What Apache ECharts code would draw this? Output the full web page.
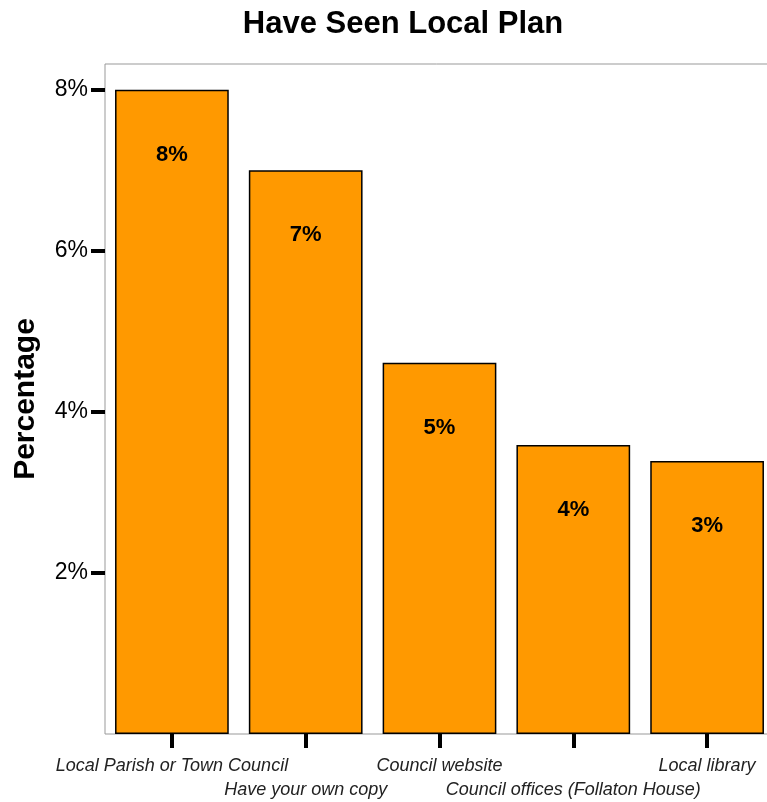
<!DOCTYPE html>
<html>
<head>
<meta charset="utf-8">
<script src="https://cdn.jsdelivr.net/npm/echarts@6/dist/echarts.min.js"></script>
<style>
  html, body { margin: 0; padding: 0; background: #fff; overflow: hidden; }
  #chart { width: 767px; height: 802px; }
</style>
</head>
<body>
<div id="chart"></div>
<script>
// Where respondents have seen the local plan
const categories = [
  'Local Parish or Town Council',
  'Have your own copy',
  'Council website',
  'Council offices (Follaton House)',
  'Local library'
];
const percentages = [8.0, 7.0, 4.61, 3.59, 3.39];
const yTicks = [2, 4, 6, 8];

const chart = echarts.init(document.getElementById('chart'));
const font = 'Liberation Sans, Arial, sans-serif';

chart.setOption({
  animation: false,
  title: {
    text: 'Have Seen Local Plan',
    left: 398,
    top: 4,
    textAlign: 'center',
    textStyle: { fontFamily: font, fontSize: 31, fontWeight: 'bold', color: '#000' }
  },
  grid: {
    left: 105, right: -7, top: 64, bottom: 68,
    outerBoundsMode: 'none',
    containLabel: false,
    show: true, borderColor: '#999', borderWidth: 1, backgroundColor: 'transparent'
  },
  xAxis: {
    type: 'category',
    data: categories,
    axisLine: { show: false },
    axisTick: { show: true, alignWithLabel: true, length: 14, lineStyle: { color: '#000', width: 4 } },
    axisLabel: {
      interval: 0,
      hideOverlap: false,
      margin: 20,
      fontFamily: font,
      fontSize: 18,
      fontStyle: 'italic',
      color: '#222',
      lineHeight: 24,
      formatter: (v, i) => (i % 2 ? '\n' + v : v)
    }
  },
  yAxis: {
    type: 'value',
    min: 0,
    max: 8.32,
    interval: 2,
    name: 'Percentage',
    nameLocation: 'middle',
    nameGap: 64,
    nameRotate: 90,
    nameTextStyle: { fontFamily: font, fontSize: 30, fontWeight: 'bold', color: '#000' },
    splitLine: { show: false },
    axisLine: { show: false },
    axisTick: { show: true, customValues: yTicks, length: 14, lineStyle: { color: '#000', width: 4 } },
    axisLabel: {
      customValues: yTicks,
      margin: 17,
      padding: [6, 0, 0, 0],
      fontFamily: font,
      fontSize: 23,
      color: '#000',
      formatter: v => v + '%'
    }
  },
  series: [{
    type: 'bar',
    data: percentages,
    barCategoryGap: '15%',
    itemStyle: { color: '#FF9900', borderColor: '#000', borderWidth: 1.5 },
    label: {
      show: true,
      position: 'insideTop',
      distance: 54,
      fontFamily: font,
      fontSize: 22,
      fontWeight: 'bold',
      color: '#000',
      formatter: p => Math.round(p.value) + '%'
    }
  }]
});
</script>
</body>
</html>
